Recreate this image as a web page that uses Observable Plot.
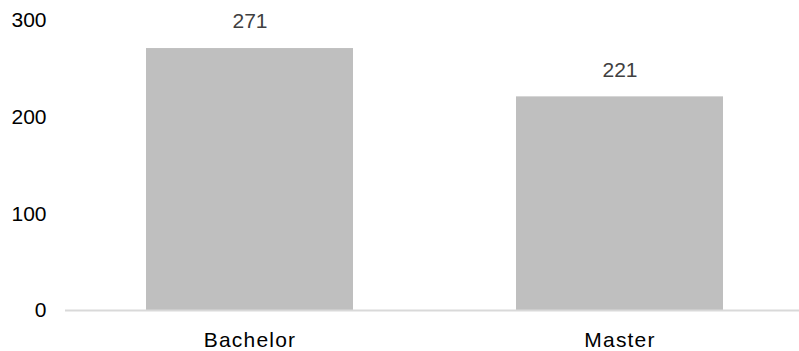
<!DOCTYPE html>
<html>
<head>
<meta charset="utf-8">
<script src="https://cdn.jsdelivr.net/npm/d3@7"></script>
<script src="https://cdn.jsdelivr.net/npm/@observablehq/plot@0.6"></script>
<style>
  html, body { margin: 0; padding: 0; background: #fff; }
  #chart svg { display: block; }
  #chart .xax text { letter-spacing: 1.2px; }
</style>
</head>
<body>
<div id="chart"></div>
<script>
const categories = ["Bachelor", "Master"];
const values = [271, 221];
const yTicks = [0, 100, 200, 300];

const data = categories.map((c, i) => ({category: c, value: values[i]}));

const chart = Plot.plot({
  width: 799,
  height: 351,
  marginTop: 20,
  marginBottom: 41,
  marginLeft: 65,
  marginRight: 0,
  style: {fontFamily: "'Liberation Sans', Arial, sans-serif", fontSize: "21px", color: "#000", background: "#fff"},
  x: {domain: categories, range: [64.5, 804.5], paddingInner: 0.44, paddingOuter: 0.22, label: null},
  y: {domain: [0, 300], label: null},
  marks: [
    Plot.barY(data, {x: "category", y: "value", fill: "#bfbfbf"}),
    Plot.ruleY([0], {stroke: "#d9d9d9", strokeWidth: 2}),
    Plot.text(data, {x: "category", y: "value", text: d => String(d.value), dy: -27, fill: "#404040", fontSize: 21}),
    Plot.axisY({ticks: yTicks, tickSize: 0, tickPadding: 19, label: null, fontSize: 21}),
    Plot.axisX({tickSize: 0, tickPadding: 22, label: null, fontSize: 21, className: "xax"})
  ]
});
document.getElementById("chart").appendChild(chart);
</script>
</body>
</html>
